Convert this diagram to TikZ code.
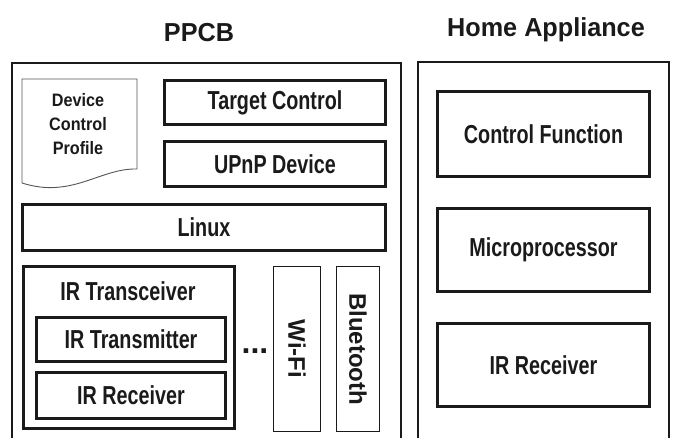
\documentclass[tikz,border=0pt]{standalone}
\usepackage{fontspec}
\setmainfont{Liberation Sans}
\newfontfamily\labfont[FakeStretch=0.76]{Liberation Sans}
\newfontfamily\docfont[FakeStretch=0.9]{Liberation Sans}
\newfontfamily\titlefont[FakeStretch=0.97]{Liberation Sans}
\definecolor{ink}{HTML}{1A1A1A}
\definecolor{thin}{HTML}{555555}
\tikzset{
  panel/.style={draw=ink, line width=2.6pt},
  block/.style={draw=ink, line width=3pt, inner sep=0pt, align=center,
    font=\labfont\bfseries\fontsize{26}{28}\selectfont, text=ink},
  slim/.style={draw=ink, line width=1pt, inner sep=0pt},
  label/.style={inner sep=0pt, text=ink, font=\labfont\bfseries\fontsize{26}{28}\selectfont},
  vlabel/.style={inner sep=0pt, text=ink, rotate=-90, font=\bfseries\fontsize{24}{26}\selectfont},
  heading/.style={inner sep=0pt, text=ink, font=\titlefont\bfseries\fontsize{26}{28}\selectfont},
}
\begin{document}
\begin{tikzpicture}[x=1pt, y=-1pt]
\useasboundingbox (0,0) rectangle (676,437);
\clip (0,0) rectangle (676,437);

% headings
\node[heading] (tppcb) at (199,33) {PPCB};
\node[heading] (thome) at (546,30) {Home Appliance};

% open-bottom panels
\draw[panel] (12,450) -- (12,63) -- (401,63) -- (401,450);
\draw[panel] (418,450) -- (418,62) -- (669,62) -- (669,450);

% device control profile (document shape)
\draw[draw=thin, line width=0.9pt]
  (22,183) -- (22,79) -- (137,79) -- (137,169)
  .. controls (100,168) and (72,199) .. (22,183);
\node[inner sep=0pt, align=center, text=ink,
      font=\docfont\bfseries\fontsize{18}{24}\selectfont] (dcp) at (78,124)
  {Device\\Control\\Profile};

% PPCB software stack
\node[block, minimum width=221pt, minimum height=44pt] (target) at (275,102.5) {Target Control};
\node[block, minimum width=221pt, minimum height=45pt] (upnp) at (275,164) {UPnP Device};
\node[block, minimum width=363pt, minimum height=46pt] (linux) at (204,227.5) {Linux};

% IR transceiver group
\node[block, minimum width=211pt, minimum height=162pt] (trx) at (129,347.5) {};
\node[label] (trxlab) at (128,291) {IR Transceiver};
\node[block, minimum width=189pt, minimum height=44pt] (irtx) at (131,339.5) {IR Transmitter};
\node[block, minimum width=189pt, minimum height=46pt] (irrx) at (131,395.5) {IR Receiver};

\node[inner sep=0pt, text=ink, anchor=base, font=\bfseries\fontsize{32}{34}\selectfont] (dots) at (255,353) {...};

% wireless modules
\node[slim, minimum width=47pt, minimum height=165pt] (wifi) at (297,349) {};
\node[slim, minimum width=43pt, minimum height=165pt] (bt) at (358,349) {};
\node[vlabel] (wifilab) at (wifi.center) {Wi-Fi};
\node[vlabel] (btlab) at (bt.center) {Bluetooth};

% home appliance blocks
\node[block, minimum width=212pt, minimum height=85pt] (ctrl) at (543.5,134) {Control Function};
\node[block, minimum width=212pt, minimum height=83pt] (mcu) at (543.5,250) {Microprocessor};
\node[block, minimum width=212pt, minimum height=83pt] (harx) at (543.5,365) {IR Receiver};
\end{tikzpicture}
\end{document}
